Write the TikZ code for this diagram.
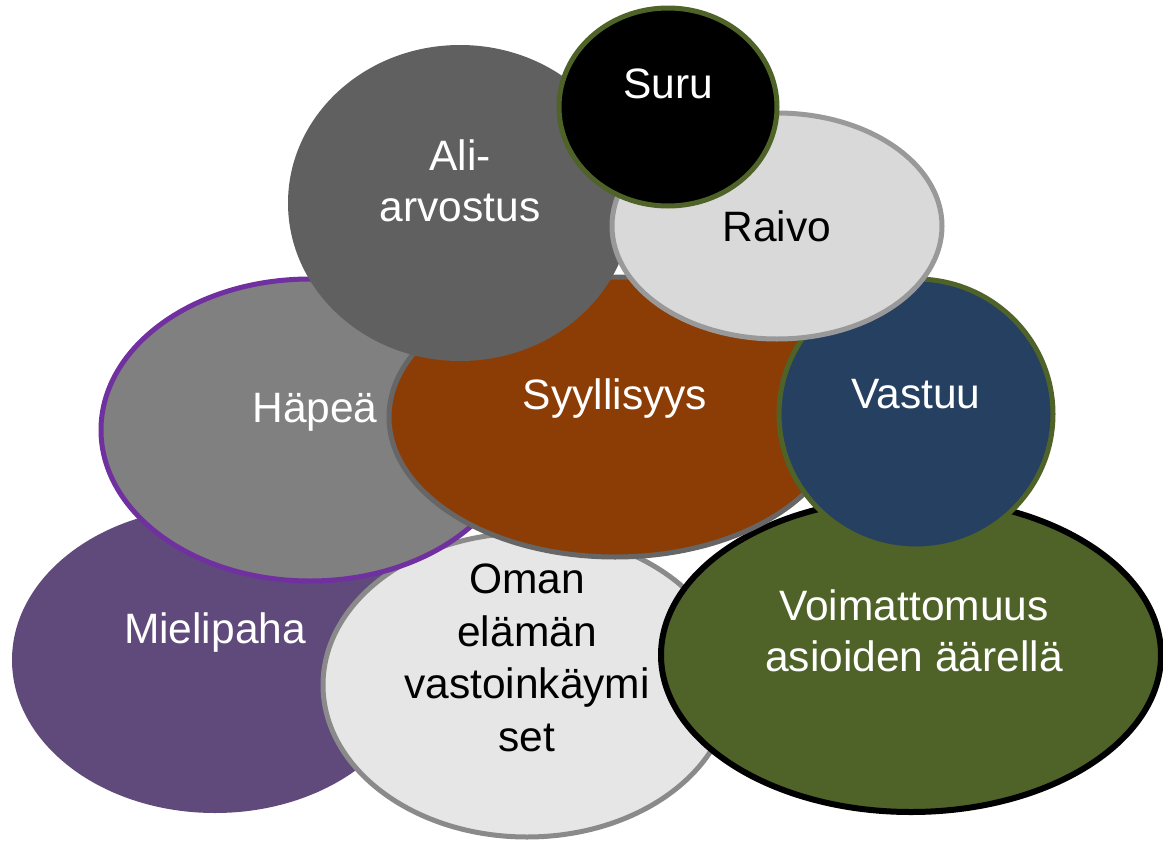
\documentclass[tikz,border=0pt]{standalone}
\usepackage{fontspec}
\setmainfont{Liberation Sans}
\definecolor{cPurple}{HTML}{5F4A7B}
\definecolor{cLight}{HTML}{E6E6E6}
\definecolor{cLightB}{HTML}{8A8A8A}
\definecolor{cOlive}{HTML}{4F6228}
\definecolor{cGrey}{HTML}{808080}
\definecolor{cViolet}{HTML}{7030A0}
\definecolor{cBrown}{HTML}{8C3D05}
\definecolor{cBrownB}{HTML}{666666}
\definecolor{cDark}{HTML}{606060}
\definecolor{cRaivo}{HTML}{D9D9D9}
\definecolor{cRaivoB}{HTML}{999999}
\definecolor{cNavy}{HTML}{254061}
\begin{document}
\begin{tikzpicture}[x=1pt,y=-1pt,
  lbl/.style={font=\fontsize{42.5}{51}\selectfont, align=center, inner sep=0pt},
  wlbl/.style={lbl, text=white},
  blbl/.style={lbl, text=black}]
\useasboundingbox (0,0) rectangle (1163,841);
% Mielipaha
\fill[cPurple] (215,660) ellipse [x radius=203pt, y radius=153pt];
% Oman
\draw[fill=cLight, draw=cLightB, line width=5pt] (527,685) ellipse [x radius=204pt, y radius=152pt];
% Voimattomuus
\draw[fill=cOlive, draw=black, line width=6pt] (911,655) ellipse [x radius=250pt, y radius=157pt];
% Hapea
\draw[fill=cGrey, draw=cViolet, line width=5pt] (310,430) ellipse [x radius=209pt, y radius=151pt];
% Syyllisyys
\draw[fill=cBrown, draw=cBrownB, line width=5pt] (615,417) ellipse [x radius=226pt, y radius=140pt];
% Vastuu
\draw[fill=cNavy, draw=cOlive, line width=5pt] (916,414) ellipse [x radius=137pt, y radius=135pt];
% Ali-arvostus
\fill[cDark] (460,203) ellipse [x radius=172pt, y radius=158pt];
% Raivo
\draw[fill=cRaivo, draw=cRaivoB, line width=5pt] (777,226) ellipse [x radius=165pt, y radius=113pt];
% Suru
\draw[fill=black, draw=cOlive, line width=5pt] (668,107) ellipse [x radius=109pt, y radius=99pt];

\node[wlbl, anchor=base] (suru) at (668,98) {Suru};
\node[wlbl, anchor=center] (ali) at (460,181) {Ali-\\arvostus};
\node[blbl, anchor=base] (raivo) at (777,241) {Raivo};
\node[wlbl, anchor=base] (hapea) at (315,422) {Häpeä};
\node[wlbl, anchor=base] (syy) at (615,409) {Syyllisyys};
\node[wlbl, anchor=base] (vastuu) at (916,408) {Vastuu};
\node[wlbl, anchor=base] (mieli) at (215,643) {Mielipaha};
\node[blbl, anchor=center, font=\fontsize{42.5}{52.5}\selectfont] (oman) at (527,658) {Oman\\elämän\\vastoinkäymi\\set};
\node[wlbl, anchor=center] (voima) at (914,631) {Voimattomuus\\asioiden äärellä};
\end{tikzpicture}
\end{document}
